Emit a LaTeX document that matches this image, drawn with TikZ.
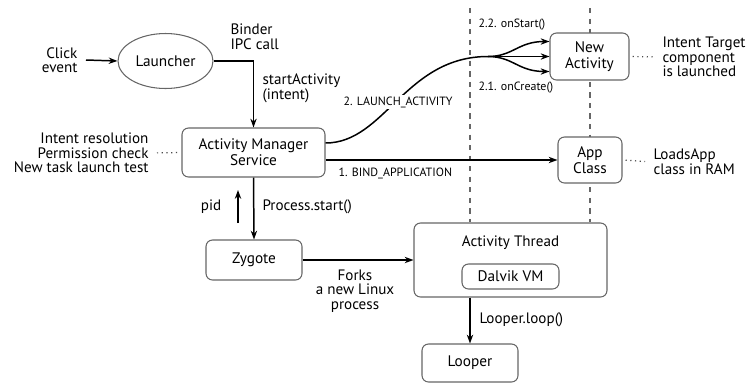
\documentclass[tikz,border=0pt]{standalone}
\usepackage{fontspec}
\setmainfont{PT Sans}
\usetikzlibrary{shapes.geometric,arrows.meta}
\begin{document}
\begin{tikzpicture}[x=0.02cm,y=-0.02cm,line width=0.6pt,
  box/.style={shape=rectangle,rounded corners=0.13cm,draw=black!60,fill=white,align=center,inner sep=0pt,font=\fontsize{8.7}{9.2}\selectfont},
  txt/.style={align=center,inner sep=0pt,font=\fontsize{8.6}{8.3}\selectfont},
  small/.style={inner sep=0pt,font=\fontsize{6.8}{7.5}\selectfont},
  arr/.style={-{Stealth[length=5pt,width=3.6pt]},line width=0.85pt},
  dashline/.style={dashed,draw=black!60,dash pattern=on 3pt off 3pt},
  dotline/.style={dotted,line width=0.7pt,draw=black!70}]
\def\dxa{470};
\def\dxb{590};

\useasboundingbox (0,0) rectangle (747,383);

\coordinate (dA) at (\dxa,8);
\coordinate (dB) at (\dxb,8);
\node[box,minimum width=3.86cm,minimum height=1.48cm] (AT) at (510.5,260) {};
\draw[dashline] (dA) -- (dA |- AT.north);
\draw[dashline] (dB) -- (dB |- AT.north);

\node[txt,anchor=east,align=right] (click) at (78,60) {Click\\event};
\node[box,shape=ellipse,rounded corners=0pt,minimum width=1.9cm,minimum height=1.1cm] (L) at (165.5,61) {Launcher};
\draw[arr] (click.east) ++(0.16cm,0) coordinate (clk) (clk) -- (L.west);

\node[txt,anchor=west,align=left] (binder) at (230,37) {Binder\\IPC call};
\node[box,minimum width=2.86cm,minimum height=0.98cm] (AMS) at (253.5,152.5) {Activity Manager\\Service};
\draw[arr] (L.east) -| (AMS.north);
\node[txt,anchor=west,align=left] (start) at (262,88) {startActivity\\(intent)};

\node[txt,anchor=east,align=right] (res) at (149,153) {Intent resolution\\Permission check\\New task launch test};
\draw[dotline,shorten <=0.16cm,shorten >=0.05cm] (res.east) -- (AMS.west);

\node[box,minimum width=1.58cm,minimum height=0.94cm] (NA) at (589.5,56.5) {New\\Activity};
\node[box,minimum width=1.28cm,minimum height=0.92cm] (App) at (590,160) {App\\Class};
\node[txt,anchor=west,align=left] (tgt) at (662,57) {Intent Target\\component\\is launched};
\draw[dotline,shorten <=0.06cm,shorten >=0.14cm] (NA.east) -- (tgt.west);
\node[txt,anchor=west,align=left] (ram) at (653,162) {LoadsApp\\class in RAM};
\draw[dotline,shorten <=0.06cm,shorten >=0.16cm] (App.east) -- (ram.west);

\coordinate (fork) at (488,56.5);
\draw[line width=0.85pt] ([yshift=0.19cm]AMS.east) .. controls (385,143) and (405,56.5) .. (fork);
\node[small,fill=white,inner sep=1pt] (launch) at (398,102) {2. LAUNCH\_ACTIVITY};
\draw[arr] (fork) .. controls (513,56.5) and (518,41.5) .. ([yshift=0.3cm]NA.west);
\draw[arr] (fork) -- (NA.west);
\draw[arr] (fork) .. controls (513,56.5) and (518,71.5) .. ([yshift=-0.3cm]NA.west);
\node[small,anchor=west] (onstart) at (478,25) {2.2. onStart()};
\node[small,anchor=west] (oncreate) at (478,88) {2.1. onCreate()};

\draw[arr] (AMS.east |- App.west) -- (App.west);
\node[small,anchor=west] (bind) at (338,173) {1. BIND\_APPLICATION};

\node[box,minimum width=1.92cm,minimum height=0.8cm] (Z) at (254,260) {Zygote};
\draw[arr] (AMS.south) -- (Z.north);
\node[txt,anchor=west] (pstart) at (262,207) {Process.start()};
\coordinate (pidA) at (238,223);
\coordinate (pidB) at (238,190);
\draw[arr] (pidA) -- (pidB);
\node[txt] (pid) at (211,207) {pid};

\draw[arr] (Z.east) -- (AT.west);
\node[txt] (forks) at (355,291) {Forks\\a new Linux\\process};

\node[txt] (ATt) at (510.5,243) {Activity Thread};
\node[box,minimum width=1.94cm,minimum height=0.5cm] (DVM) at (510.5,276.5) {Dalvik VM};

\node[box,minimum width=1.92cm,minimum height=0.76cm] (Lp) at (470,363) {Looper};
\draw[arr] (Lp.north |- AT.south) -- (Lp.north);
\node[txt,anchor=west] (loop) at (479,320) {Looper.loop()};
\end{tikzpicture}
\end{document}
